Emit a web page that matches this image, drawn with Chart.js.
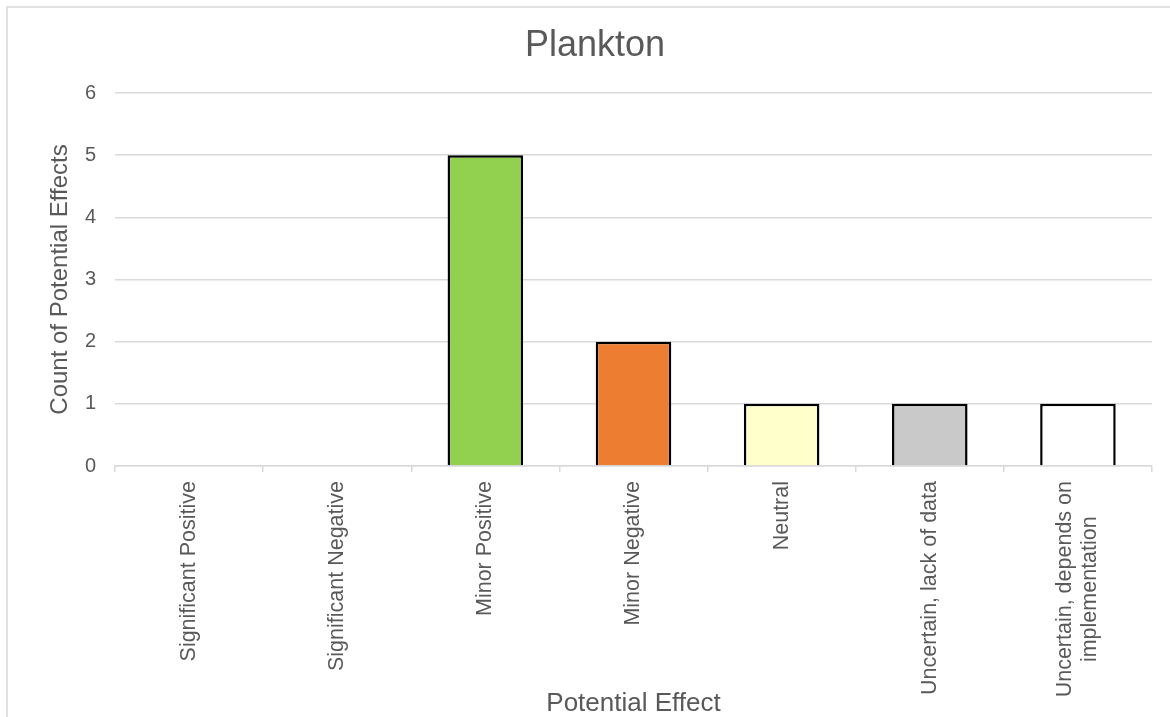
<!DOCTYPE html>
<html>
<head>
<meta charset="utf-8">
<script src="https://cdn.jsdelivr.net/npm/chart.js@4.4.1/dist/chart.umd.min.js"></script>
<style>
  html, body { margin: 0; padding: 0; background: #ffffff; overflow: hidden; }
  #wrap { width: 1170px; height: 717px; }
</style>
</head>
<body>
<div id="wrap"><canvas id="chart" width="1170" height="717"></canvas></div>
<script>
// ---- data ----
const categories = [
  'Significant Positive',
  'Significant Negative',
  'Minor Positive',
  'Minor Negative',
  'Neutral',
  'Uncertain, lack of data',
  ['Uncertain, depends on', 'implementation']
];
const counts = [0, 0, 5, 2, 1, 1, 1];
const chartTitle = 'Plankton';
const yAxisTitle = 'Count of Potential Effects';
const xAxisTitle = 'Potential Effect';
const yMin = 0;
const yMax = 6;
const yStep = 1;

// ---- styling ----
const FONT = '"Liberation Sans", Arial, sans-serif';
const TEXT = '#595959';
const GRID = '#d9d9d9';
const barFills = ['#00b050', '#c00000', '#92d050', '#ed7d31', '#ffffcc', '#c9c9c9', '#ffffff'];

// frame, chart title and rotated category labels
const decorations = {
  id: 'decorations',
  beforeDraw(chart) {
    const ctx = chart.ctx;
    ctx.save();
    ctx.fillStyle = '#ffffff';
    ctx.fillRect(0, 0, chart.width, chart.height);
    ctx.strokeStyle = GRID;
    ctx.lineWidth = 1.5;
    ctx.beginPath();
    ctx.moveTo(7, chart.height);
    ctx.lineTo(7, 7);
    ctx.lineTo(chart.width, 7);
    ctx.stroke();
    ctx.restore();
  },
  afterDraw(chart) {
    const ctx = chart.ctx;
    const xs = chart.scales.x;
    ctx.save();
    // chart title, centred on the frame
    ctx.fillStyle = TEXT;
    ctx.font = '36px ' + FONT;
    ctx.textAlign = 'center';
    ctx.textBaseline = 'alphabetic';
    ctx.fillText(chartTitle, 595, 56);

    // category labels, read bottom-to-top, lines centred within each block
    ctx.font = '21.5px ' + FONT;
    const lh = 25;
    categories.forEach((lab, i) => {
      const lines = Array.isArray(lab) ? lab : [lab];
      const x = xs.getPixelForTick(i);
      const w = Math.max(...lines.map(l => ctx.measureText(l).width));
      ctx.save();
      ctx.translate(x, xs.top + 15);
      ctx.rotate(-Math.PI / 2);
      ctx.textAlign = 'center';
      ctx.textBaseline = 'middle';
      lines.forEach((l, j) => {
        ctx.fillText(l, -w / 2, (j - (lines.length - 1) / 2) * lh);
      });
      ctx.restore();
    });
    ctx.restore();
  }
};

new Chart(document.getElementById('chart'), {
  type: 'bar',
  data: {
    labels: categories,
    datasets: [{
      data: counts,
      backgroundColor: barFills,
      borderColor: '#000000',
      borderWidth: 2.5,
      barPercentage: 0.51,
      categoryPercentage: 1
    }]
  },
  options: {
    responsive: false,
    animation: false,
    devicePixelRatio: 1,
    layout: { padding: { left: 10, right: 18, top: 93, bottom: 0 } },
    plugins: {
      legend: { display: false },
      title: { display: false },
      tooltip: { enabled: false }
    },
    scales: {
      x: {
        ticks: { display: false },
        grid: {
          offset: true,
          drawOnChartArea: false,
          drawTicks: true,
          tickLength: 6,
          color: GRID,
          lineWidth: 1.5
        },
        border: { display: true, color: GRID, width: 1.5 },
        title: {
          display: true,
          text: xAxisTitle,
          color: TEXT,
          font: { family: FONT, size: 26, lineHeight: 1 },
          padding: { top: 0, bottom: 0 }
        },
        afterFit(scale) { scale.height = 251; }
      },
      y: {
        min: yMin,
        max: yMax,
        ticks: {
          stepSize: yStep,
          color: TEXT,
          font: { family: FONT, size: 20 },
          padding: 19
        },
        grid: { color: GRID, lineWidth: 1.5, drawTicks: false },
        border: { display: false },
        title: {
          display: true,
          text: yAxisTitle,
          color: TEXT,
          font: { family: FONT, size: 24, lineHeight: 1.2 },
          padding: { top: 36, bottom: 0 }
        },
        afterFit(scale) { scale.width = 105; }
      }
    }
  },
  plugins: [decorations]
});
</script>
</body>
</html>
